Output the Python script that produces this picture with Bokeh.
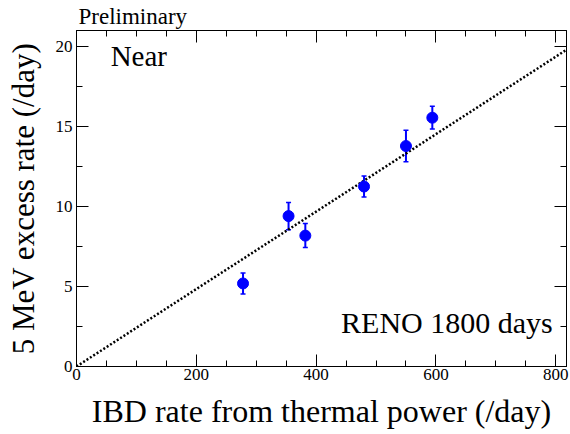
from bokeh.plotting import figure
from bokeh.models import ColumnDataSource, Whisker, TeeHead, FixedTicker, LinearAxis, Label, Range1d
from bokeh.embed import file_html
from bokeh.resources import INLINE

# ---- data ----
ibd_rate = [278, 354, 382, 480, 550, 594]
excess_rate = [5.19, 9.40, 8.18, 11.25, 13.78, 15.55]
excess_err = [0.66, 0.85, 0.75, 0.66, 0.98, 0.71]
fit_slope = 0.0242
fit_x = [0, 818]
x_major = [0, 200, 400, 600, 800]
x_minor = [50, 100, 150, 250, 300, 350, 450, 500, 550, 650, 700, 750]
y_major = [0, 5, 10, 15, 20]
y_minor = [2.5, 7.5, 12.5, 17.5]

FONT = "Liberation Serif"

p = figure(width=570, height=434, output_backend="svg", toolbar_location=None,
           x_range=Range1d(0, 818), y_range=Range1d(0, 21),
           min_border_left=76, min_border_right=4, min_border_top=30, min_border_bottom=68,
           x_axis_label="IBD rate from thermal power (/day)",
           y_axis_label="5 MeV excess rate (/day)")
p.grid.visible = False
p.outline_line_color = "black"
p.outline_line_width = 1

p.title.text = "Preliminary"
p.title.align = "left"
p.title.offset = 2
p.title.standoff = 0
p.title.vertical_align = "top"
p.title.text_line_height = 0.7
p.title.text_font = FONT
p.title.text_font_size = "23px"
p.title.text_font_style = "normal"
p.title.text_color = "black"

def style(ax, labels=True):
    ax.axis_line_color = "black"
    ax.axis_line_width = 1
    ax.major_tick_in = 12
    ax.major_tick_out = 0
    ax.minor_tick_in = 6
    ax.minor_tick_out = 0
    ax.major_tick_line_color = "black"
    ax.minor_tick_line_color = "black"
    ax.major_label_text_font = FONT
    ax.major_label_text_font_size = "17px"
    ax.major_label_text_color = "black"
    ax.axis_label_text_font = FONT
    ax.axis_label_text_font_size = "31px"
    ax.axis_label_text_font_style = "normal"
    ax.axis_label_text_color = "black"
    if not labels:
        ax.major_label_text_font_size = "0px"
        ax.major_label_text_alpha = 0

p.xaxis.ticker = FixedTicker(ticks=x_major, minor_ticks=x_minor)
p.yaxis.ticker = FixedTicker(ticks=y_major, minor_ticks=y_minor)
style(p.xaxis[0])
style(p.yaxis[0])
p.xaxis.axis_label_text_font_size = "32px"
p.xaxis.major_label_standoff = 2
p.xaxis.axis_label_standoff = 10
p.yaxis.major_label_standoff = 4
p.yaxis.axis_label_standoff = 12

top = LinearAxis(ticker=FixedTicker(ticks=x_major, minor_ticks=x_minor), major_label_text_font_size="0px")
right = LinearAxis(ticker=FixedTicker(ticks=y_major, minor_ticks=y_minor), major_label_text_font_size="0px")
style(top, labels=False)
style(right, labels=False)
top.major_label_standoff = 5
right.major_label_standoff = 0
p.add_layout(top, "above")
p.add_layout(right, "right")

# fit line
p.line(fit_x, [fit_slope * v for v in fit_x], line_color="black", line_width=2.5, line_dash="2 2")

src = ColumnDataSource(dict(
    x=ibd_rate, y=excess_rate,
    lo=[a - b for a, b in zip(excess_rate, excess_err)],
    hi=[a + b for a, b in zip(excess_rate, excess_err)],
))
w = Whisker(source=src, base="x", upper="hi", lower="lo", dimension="height",
            line_color="blue", line_width=2,
            upper_head=TeeHead(size=5, line_color="blue", line_width=1.5),
            lower_head=TeeHead(size=5, line_color="blue", line_width=1.5))
p.add_layout(w)
p.scatter("x", "y", source=src, size=11, color="blue", marker="circle")

p.add_layout(Label(x=57, y=19.41, text="Near", text_font=FONT, text_font_size="29px",
                   text_baseline="alphabetic", text_align="left", text_color="black"))
p.add_layout(Label(x=795, y=2.76, text="RENO 1800 days", text_font=FONT, text_font_size="30px",
                   text_baseline="alphabetic", text_align="right", text_color="black"))

open("out.html", "w").write(file_html(p, INLINE))
